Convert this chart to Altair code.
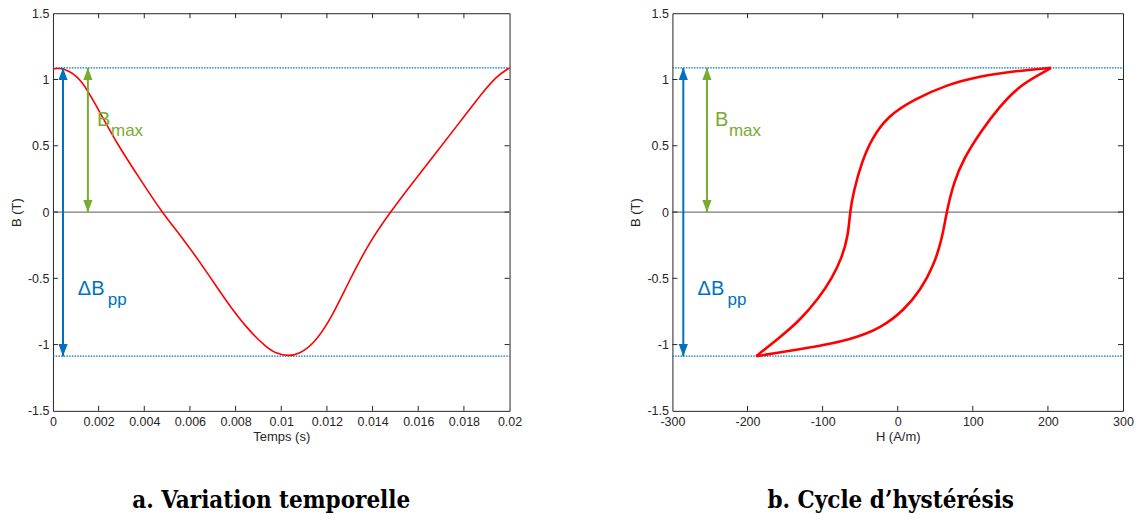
import altair as alt
import pandas as pd

# ---------------- data ----------------
t_s = [0.0, 0.0003, 0.0007, 0.00126, 0.00206, 0.00286, 0.00381, 0.00476, 0.0057,
       0.00673, 0.0076, 0.00848, 0.00935, 0.0098, 0.0103, 0.0108, 0.01139, 0.01212,
       0.01297, 0.01387, 0.01478, 0.01577, 0.01679, 0.01781, 0.01869, 0.01942, 0.02]
B_t = [1.08, 1.0875, 1.065, 1.0, 0.75, 0.5, 0.25, 0.0, -0.2,
       -0.45, -0.675, -0.875, -1.022, -1.069, -1.0875, -1.07, -1.0, -0.827,
       -0.52, -0.225, 0.0, 0.225, 0.45, 0.675, 0.875, 1.025, 1.0875]

# descending branch (from positive tip to negative tip)
H_desc = [204, 153.5, 109.6, 65.8, 21.9, -13.2, -35, -48, -59, -63.6, -65.8, -74.6,
          -87.7, -105, -131.6, -157.9, -188.5]
B_desc = [1.0875, 1.062, 1.025, 0.962, 0.85, 0.725, 0.55, 0.375, 0.15, 0.0, -0.175,
          -0.35, -0.5, -0.65, -0.825, -0.95, -1.0875]
# ascending branch (from negative tip to positive tip)
H_asc = [-188.5, -122.8, -61.4, -21.9, 8.8, 30.7, 48.2, 59.2, 65, 74.6, 87.7, 109.6,
         136, 162, 188.6, 204]
B_asc = [-1.0875, -1.03, -0.962, -0.875, -0.737, -0.587, -0.4, -0.2, 0.0, 0.225,
         0.4, 0.6, 0.8, 0.95, 1.037, 1.0875]

B_MAX = 1.0875

time_ticks = [0, 0.002, 0.004, 0.006, 0.008, 0.01, 0.012, 0.014, 0.016, 0.018, 0.02]
h_ticks = [-300, -200, -100, 0, 100, 200, 300]
b_ticks = [-1.5, -1, -0.5, 0, 0.5, 1, 1.5]

# annotation anchors (data coordinates): blue arrow x, green arrow x
arrows_time = [0.00044, 0.00153]
arrows_h = [-285.5, -254.0]
# label anchors: (x of "B", x of "ΔB")
labels_time = [0.00193, 0.00109]
labels_h = [-243.4, -266.5]
label_y = [0.6525, -0.6225]

captions = ["a. Variation temporelle", "b. Cycle d\u2019hyst\u00e9r\u00e9sis"]

# ---------------- styling ----------------
W1, W2, HGT = 457, 451, 398
RED = "#FF0000"
BLUE = "#0072BD"
GREEN = "#77AC30"
AX = "#262626"
FONT = "Liberation Sans"
LBL = "datum.value < 0 ? '-' + format(-datum.value, '~g') : format(datum.value, '~g')"
TICK = 5


def make_panel(curve_df, xdom, xticks, xtitle, arr_x, lab_x, caption,
               width, stroke_w, interp, cap_dx):
    xs = alt.Scale(domain=xdom, nice=False, zero=False)
    ys = alt.Scale(domain=[-1.5, 1.5], nice=False, zero=False)
    X = alt.X("x:Q", scale=xs,
              axis=alt.Axis(values=xticks, title=xtitle, labelExpr=LBL, ticks=False,
                            tickSize=0, domain=False, grid=False, labelPadding=5,
                            titlePadding=2, labelFlush=False, labelOverlap=False))
    Y = alt.Y("y:Q", scale=ys,
              axis=alt.Axis(values=b_ticks, title="B (T)", labelExpr=LBL, ticks=False,
                            tickSize=0, domain=False, grid=False, labelPadding=4,
                            titlePadding=4, labelFlush=False, labelOverlap=False))

    zero = alt.Chart(pd.DataFrame({"y": [0.0]})).mark_rule(
        color="#7a7a7a", strokeWidth=1.3).encode(
        y=Y, x=alt.value(0), x2=alt.value(width))
    dotted = alt.Chart(pd.DataFrame({"y": [B_MAX, -B_MAX]})).mark_rule(
        color=BLUE, strokeWidth=1.3, strokeDash=[1.5, 1.2]).encode(
        y=Y, x=alt.value(0), x2=alt.value(width))

    inner_x = pd.DataFrame({"x": xticks[1:-1]})
    inner_y = pd.DataFrame({"y": b_ticks[1:-1]})
    tk_b = alt.Chart(inner_x).mark_rule(color=AX, strokeWidth=1).encode(
        x=X, y=alt.value(HGT), y2=alt.value(HGT - TICK))
    tk_t = alt.Chart(inner_x).mark_rule(color=AX, strokeWidth=1).encode(
        x=X, y=alt.value(0), y2=alt.value(TICK))
    tk_l = alt.Chart(inner_y).mark_rule(color=AX, strokeWidth=1).encode(
        y=Y, x=alt.value(0), x2=alt.value(TICK))
    tk_r = alt.Chart(inner_y).mark_rule(color=AX, strokeWidth=1).encode(
        y=Y, x=alt.value(width), x2=alt.value(width - TICK))

    curve = alt.Chart(curve_df).mark_line(
        color=RED, strokeWidth=stroke_w, interpolate=interp).encode(
        x=X, y=Y, order="o:Q", detail="branch:N")

    up = "M0,-1L-0.75,1L0.75,1Z"
    down = "M0,1L-0.75,-1L0.75,-1Z"

    def arrow(xv, ytop, ybot, color):
        shaft = alt.Chart(pd.DataFrame({"x": [xv], "y": [ytop], "y2": [ybot]})).mark_rule(
            color=color, strokeWidth=2).encode(x=X, y=Y, y2="y2:Q")
        h1 = alt.Chart(pd.DataFrame({"x": [xv], "y": [ytop]})).mark_point(
            shape=up, filled=True, opacity=1, color=color, size=150, yOffset=6,
            strokeWidth=0).encode(x=X, y=Y)
        h2 = alt.Chart(pd.DataFrame({"x": [xv], "y": [ybot]})).mark_point(
            shape=down, filled=True, opacity=1, color=color, size=150, yOffset=-6,
            strokeWidth=0).encode(x=X, y=Y)
        return [shaft, h1, h2]

    a_blue = arrow(arr_x[0], B_MAX, -B_MAX, BLUE)
    a_green = arrow(arr_x[1], B_MAX, 0.0, GREEN)

    def txt(xv, yv, s, color, size, dx=0, dy=0):
        return alt.Chart(pd.DataFrame({"x": [xv], "y": [yv], "t": [s]})).mark_text(
            color=color, font=FONT, fontSize=size, align="left", baseline="alphabetic",
            dx=dx, dy=dy).encode(x=X, y=Y, text="t:N")

    texts = [
        txt(lab_x[0], label_y[0], "B", GREEN, 20),
        txt(lab_x[0], label_y[0], "max", GREEN, 17, dx=14, dy=10),
        txt(lab_x[1], label_y[1], "\u0394B", BLUE, 20),
        txt(lab_x[1], label_y[1], "pp", BLUE, 17, dx=30, dy=10),
    ]

    layers = [zero, dotted, tk_b, tk_t, tk_l, tk_r, curve] + a_blue + a_green + texts
    return alt.layer(*layers).properties(
        width=width, height=HGT,
        title=alt.TitleParams(caption, orient="bottom", anchor="middle", offset=46,
                              dx=cap_dx, font="DejaVu Serif Condensed, DejaVu Serif",
                              fontSize=24, fontWeight="bold", color="#000000"))


time_df = pd.DataFrame({"x": t_s, "y": B_t, "o": list(range(len(t_s))),
                        "branch": ["t"] * len(t_s)})
loop_df = pd.DataFrame({
    "x": H_desc + H_asc,
    "y": B_desc + B_asc,
    "o": list(range(len(H_desc))) + list(range(len(H_asc))),
    "branch": ["desc"] * len(H_desc) + ["asc"] * len(H_asc),
})

left = make_panel(time_df, [0, 0.02], time_ticks, "Temps (s)", arrows_time,
                  labels_time, captions[0], W1, 1.6, "basis", -10)
right = make_panel(loop_df, [-300, 300], h_ticks, "H (A/m)", arrows_h, labels_h,
                   captions[1], W2, 2.6, "basis", -7)

chart = alt.hconcat(left, right, spacing=163, bounds="flush").configure(
    padding={"left": 1, "top": -2, "right": 0, "bottom": 0},
    background="white",
).configure_view(stroke=AX, strokeWidth=1).configure_axis(
    labelFont=FONT, labelFontSize=12.5, labelColor=AX,
    titleFont=FONT, titleFontSize=13, titleColor=AX, titleFontWeight="normal",
)

chart.save("out.html", embed_options={"renderer": "svg", "actions": False})
